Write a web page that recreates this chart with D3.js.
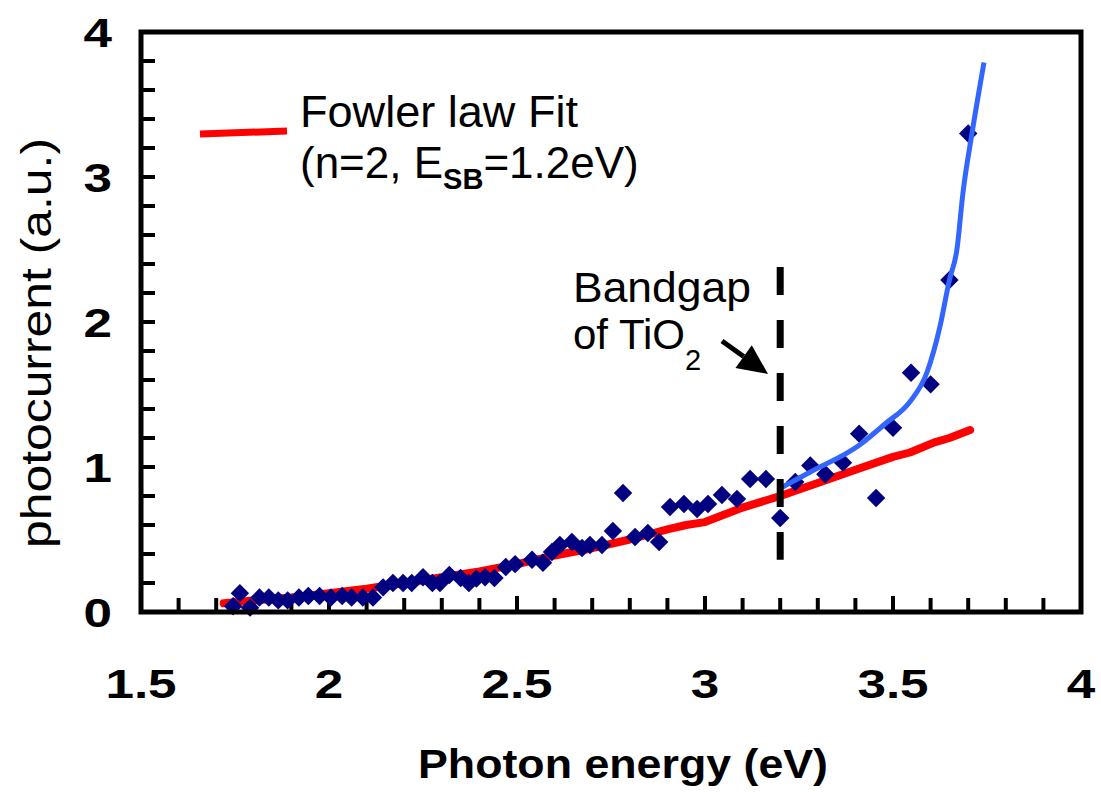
<!DOCTYPE html>
<html><head><meta charset="utf-8">
<script src="https://cdn.jsdelivr.net/npm/d3@7"></script>
<style>body{margin:0;background:#fff}svg{display:block}text{font-family:"Liberation Sans",Arial,Helvetica,sans-serif}</style>
</head><body>
<svg id="c" width="1101" height="792"></svg>
<script>
// ---- data ----
const energy = [1.745,1.763,1.79,1.815,1.84,1.865,1.89,1.92,1.945,1.975,2.005,2.035,2.06,2.09,2.117,2.144,2.17,2.197,2.22,2.25,2.275,2.295,2.32,2.35,2.372,2.392,2.415,2.44,2.47,2.495,2.54,2.569,2.593,2.614,2.646,2.673,2.694,2.726,2.755,2.782,2.814,2.848,2.878,2.907,2.944,2.979,3.008,3.045,3.085,3.12,3.162,3.2,3.24,3.28,3.32,3.367,3.41,3.455,3.5,3.548,3.6,3.65,3.70];
const photocurrent = [0.04,0.13,0.03,0.10,0.10,0.08,0.08,0.10,0.11,0.11,0.10,0.11,0.10,0.10,0.10,0.17,0.20,0.20,0.20,0.24,0.20,0.20,0.255,0.235,0.20,0.23,0.24,0.235,0.31,0.33,0.36,0.34,0.414,0.462,0.483,0.441,0.462,0.462,0.559,0.821,0.517,0.545,0.483,0.724,0.745,0.71,0.745,0.807,0.78,0.917,0.917,0.648,0.897,1.01,0.95,1.03,1.23,0.786,1.27,1.65,1.57,2.29,3.30];
const fitE = [1.72,1.8,1.9,2.0,2.1,2.2,2.3,2.4,2.5,2.55,2.6,2.7,2.8,2.9,2.95,3.0,3.05,3.1,3.2,3.3,3.41,3.5,3.545,3.61,3.65,3.705];
const fitI = [0.06,0.08,0.10,0.13,0.16,0.20,0.24,0.28,0.33,0.36,0.39,0.44,0.50,0.57,0.60,0.62,0.67,0.72,0.80,0.89,0.99,1.07,1.10,1.17,1.20,1.255];
const fit2E = [3.205,3.28,3.41,3.48,3.545,3.59,3.625,3.65,3.67,3.686,3.71,3.742];
const fit2I = [0.86,0.966,1.15,1.30,1.45,1.65,1.97,2.29,2.5,2.89,3.30,3.79];
const xTickLabels = ["1.5","2","2.5","3","3.5","4"];
const yTickLabels = ["0","1","2","3","4"];
const bandgapE = 3.2, bandgapTop = 2.38, bandgapBottom = 0.36;

// ---- layout ----
const svg = d3.select("#c");
const L = 141, R = 1081, T = 32, B = 612;
const x = d3.scaleLinear().domain([1.5, 4]).range([L, R]);
const y = d3.scaleLinear().domain([0, 4]).range([B, T]);
const stretch = 1.28;

// ticks (inward)
const minorX = d3.range(16, 40).map(d => d / 10);
svg.append("g").selectAll("line").data(minorX).join("line")
  .attr("x1", d => x(d)).attr("x2", d => x(d))
  .attr("y1", B).attr("y2", d => B - (Math.abs(d * 2 - Math.round(d * 2)) < 1e-6 ? 16 : 14))
  .attr("stroke", "#000").attr("stroke-width", 4);
const minorY = d3.range(1, 20).map(d => d / 5);
svg.append("g").selectAll("line").data(minorY).join("line")
  .attr("y1", d => y(d)).attr("y2", d => y(d))
  .attr("x1", L).attr("x2", L + 14)
  .attr("stroke", "#000").attr("stroke-width", 4);

// tick labels
svg.append("g").selectAll("text").data(xTickLabels).join("text")
  .attr("transform", d => `translate(${x(+d)},698) scale(${stretch},1)`)
  .attr("text-anchor", "middle")
  .attr("font-size", 40).attr("font-weight", "bold").text(d => d);
svg.append("g").selectAll("text").data(yTickLabels).join("text")
  .attr("transform", d => `translate(112,${y(+d) + 15}) scale(${stretch},1)`)
  .attr("text-anchor", "end")
  .attr("font-size", 40).attr("font-weight", "bold").text(d => d);

// axis titles
svg.append("text").attr("x", 623).attr("y", 778).attr("text-anchor", "middle")
  .attr("font-size", 41).attr("font-weight", "bold")
  .attr("textLength", 410).attr("lengthAdjust", "spacingAndGlyphs")
  .text("Photon energy (eV)");
svg.append("text").attr("transform", "translate(51,343) rotate(-90)")
  .attr("text-anchor", "middle").attr("font-size", 43)
  .attr("textLength", 410).attr("lengthAdjust", "spacingAndGlyphs")
  .text("photocurrent (a.u.)");

// red fit
svg.append("path").datum(fitE.map((e, i) => [e, fitI[i]]))
  .attr("d", d3.line().x(d => x(d[0])).y(d => y(d[1])))
  .attr("fill", "none").attr("stroke", "#ff0000").attr("stroke-width", 8)
  .attr("stroke-linecap", "round").attr("stroke-linejoin", "round");

// points
svg.append("g").selectAll("path").data(energy.map((e, i) => [e, photocurrent[i]])).join("path")
  .attr("d", d3.symbol().type(d3.symbolSquare).size(170))
  .attr("transform", d => `translate(${x(d[0])},${y(d[1])}) rotate(45)`)
  .attr("fill", "#000080");

// blue fit
svg.append("path").datum(fit2E.map((e, i) => [e, fit2I[i]]))
  .attr("d", d3.line().curve(d3.curveMonotoneX).x(d => x(d[0])).y(d => y(d[1])))
  .attr("fill", "none").attr("stroke", "#3366ff").attr("stroke-width", 5);

// bandgap dashed line
svg.append("line").attr("x1", x(bandgapE)).attr("x2", x(bandgapE))
  .attr("y1", y(bandgapTop)).attr("y2", y(bandgapBottom))
  .attr("stroke", "#000").attr("stroke-width", 7).attr("stroke-dasharray", "28,25");

// frame
svg.append("rect").attr("x", L).attr("y", T).attr("width", R - L).attr("height", B - T)
  .attr("fill", "none").attr("stroke", "#000").attr("stroke-width", 5);

// legend
svg.append("line").attr("x1", 200).attr("y1", 134).attr("x2", 287).attr("y2", 131)
  .attr("stroke", "#ff0000").attr("stroke-width", 7);
svg.append("text").attr("x", 300).attr("y", 127).attr("font-size", 44)
  .attr("textLength", 278).attr("lengthAdjust", "spacingAndGlyphs").text("Fowler law Fit");
const t2 = svg.append("text").attr("x", 300).attr("y", 178).attr("font-size", 44);
t2.append("tspan").text("(n=2, E");
t2.append("tspan").attr("font-size", 29).attr("font-weight", "bold").attr("dy", 11).text("SB");
t2.append("tspan").attr("dy", -11).text("=1.2eV)");

// annotation
svg.append("text").attr("x", 573).attr("y", 302).attr("font-size", 42)
  .attr("textLength", 178).attr("lengthAdjust", "spacingAndGlyphs").text("Bandgap");
const t3 = svg.append("text").attr("x", 573).attr("y", 349).attr("font-size", 42);
t3.append("tspan").text("of TiO");
t3.append("tspan").attr("font-size", 29).attr("dy", 21).text("2");
// arrow
const ax1 = 722, ay1 = 341, ax2 = 768, ay2 = 374;
const ang = Math.atan2(ay2 - ay1, ax2 - ax1);
const hl = 30, hw = 14;
const bx = ax2 - hl * Math.cos(ang), by = ay2 - hl * Math.sin(ang);
svg.append("line").attr("x1", ax1).attr("y1", ay1).attr("x2", bx).attr("y2", by)
  .attr("stroke", "#000").attr("stroke-width", 5);
svg.append("path").attr("d", `M${ax2},${ay2}L${bx - hw * Math.sin(ang)},${by + hw * Math.cos(ang)}L${bx + hw * Math.sin(ang)},${by - hw * Math.cos(ang)}Z`)
  .attr("fill", "#000");
</script>
</body></html>
